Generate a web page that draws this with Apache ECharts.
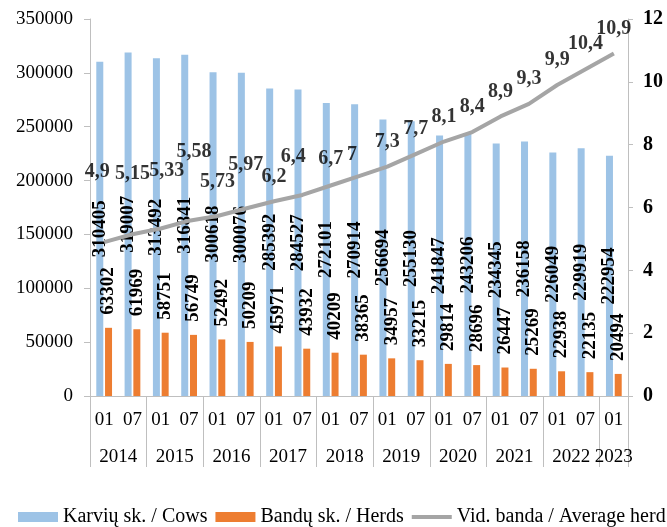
<!DOCTYPE html>
<html>
<head>
<meta charset="utf-8">
<script src="https://cdn.jsdelivr.net/npm/echarts@6/dist/echarts.min.js"></script>
<style>
html,body{margin:0;padding:0;background:#fff;}
#chart{width:667px;height:527px;}
</style>
</head>
<body>
<div id="chart"></div>
<script>
const months = ['01','07','01','07','01','07','01','07','01','07','01','07','01','07','01','07','01','07','01'];
const yearGroups = ['2014','2015','2016','2017','2018','2019','2020','2021','2022','2023'];
const cows = [310405,319007,313492,316841,300618,300076,285392,284527,272101,270914,256694,255130,241847,243206,234345,236158,226049,229919,222954];
const herds = [63302,61969,58751,56749,52492,50209,45971,43932,40209,38365,34957,33215,29814,28696,26447,25269,22938,22135,20494];
const avgHerd = [4.9,5.15,5.33,5.58,5.73,5.97,6.2,6.4,6.7,7,7.3,7.7,8.1,8.4,8.9,9.3,9.9,10.4,10.9];
const leftTicks = {min:0, max:350000, interval:50000};
const rightTicks = {min:0, max:12, interval:2};

// label nudges (styling only)
const avgLabelOffsets = [[-7,-45],[0,-35],[6,-33],[5,-44],[0,-9],[0,-19],[0,1],[-9,-13],[0,-2],[-7,4]];

const FONT = "'Liberation Serif','Times New Roman',serif";
const AX = '#BFBFBF';
const legendText = {fontFamily:FONT,fontSize:20,color:'#000'};
const LINE_ICON = 'path://M0,3h40v4h-40zM0,0h0.01v0.01h-0.01zM39.99,9.99h0.01v0.01h-0.01z';

const yearAxisData = months.map((m,i)=> i%2===0 ? yearGroups[i/2] : '');

const chart = echarts.init(document.getElementById('chart'));
chart.setOption({
  animation:false,
  backgroundColor:'#fff',
  textStyle:{fontFamily:FONT},
  grid:{left:90,right:39,top:19,bottom:131},
  legend:{
    left:18, top:507, padding:0, itemGap:8, itemWidth:40, itemHeight:10,
    textStyle:legendText,
    data:[
      {name:'Karvių sk. / Cows', icon:'rect', textStyle:legendText},
      {name:'Bandų sk. / Herds', icon:'rect', textStyle:legendText},
      {name:'Vid. banda / Average herd', icon:LINE_ICON, itemStyle:{color:'#A5A5A5'}, textStyle:legendText}
    ]
  },
  xAxis:[
    {
      type:'category', data:months, position:'bottom',
      axisLine:{show:true,lineStyle:{color:AX,width:1}},
      axisTick:{show:true,length:71,interval:(i)=>i%2===0,lineStyle:{color:AX,width:1}},
      axisLabel:{interval:0,margin:15,fontFamily:FONT,fontSize:19,color:'#000'}
    },
    {
      type:'category', data:yearAxisData, position:'bottom', offset:37,
      axisLine:{show:false}, axisTick:{show:false},
      axisLabel:{
        interval:0, margin:15,
        formatter:(v,i)=>{ if(!v) return ''; const single = (i===months.length-1); return single ? '{b|'+v+'}' : '{a|'+v+'}'; },
        rich:{
          a:{fontFamily:FONT,fontSize:19,color:'#000',padding:[0,0,0,28]},
          b:{fontFamily:FONT,fontSize:19,color:'#000'}
        }
      }
    }
  ],
  yAxis:[
    {
      type:'value', min:leftTicks.min, max:leftTicks.max, interval:leftTicks.interval,
      axisLine:{show:true,lineStyle:{color:AX}},
      axisTick:{show:true,length:6,lineStyle:{color:AX}},
      splitLine:{show:false},
      axisLabel:{margin:17,fontFamily:FONT,fontSize:19,color:'#000',formatter:(v)=>String(v)}
    },
    {
      type:'value', position:'right', min:rightTicks.min, max:rightTicks.max, interval:rightTicks.interval,
      axisLine:{show:true,lineStyle:{color:AX}},
      axisTick:{show:true,length:5,lineStyle:{color:AX}},
      splitLine:{show:false},
      axisLabel:{margin:15,fontFamily:FONT,fontSize:20,fontWeight:'bold',color:'#000',formatter:(v)=>String(v)}
    }
  ],
  series:[
    {
      name:'Karvių sk. / Cows', type:'bar', data:cows, barWidth:7, barGap:'25%',
      itemStyle:{color:'#9DC3E6'},
      label:{show:true,position:'inside',rotate:90,fontFamily:FONT,fontSize:19,fontWeight:'bold',color:'#000'}
    },
    {
      name:'Bandų sk. / Herds', type:'bar', data:herds, barWidth:7,
      itemStyle:{color:'#ED7D31'},
      label:{show:true,position:'top',distance:13,rotate:90,align:'left',verticalAlign:'middle',fontFamily:FONT,fontSize:19,fontWeight:'bold',color:'#000'}
    },
    {
      name:'Vid. banda / Average herd', type:'line', yAxisIndex:1, z:5,
      data:avgHerd,
      symbol:'none',
      lineStyle:{color:'#A5A5A5',width:4},
      itemStyle:{color:'#A5A5A5'}
    },
    {
      name:'avgLabels', type:'scatter', yAxisIndex:1, z:6,
      data:avgHerd.map((v,i)=>{
        const o = avgLabelOffsets[i] || [0,0];
        return {value:[i,v],label:{offset:o}};
      }),
      symbolSize:0,
      itemStyle:{color:'rgba(0,0,0,0)'},
      silent:true,
      label:{show:true,position:'top',distance:15,fontFamily:FONT,fontSize:20,fontWeight:'bold',color:'#000',
        formatter:(p)=>String(p.value[1]).replace('.',',')}
    }
  ]
});
</script>
</body>
</html>
